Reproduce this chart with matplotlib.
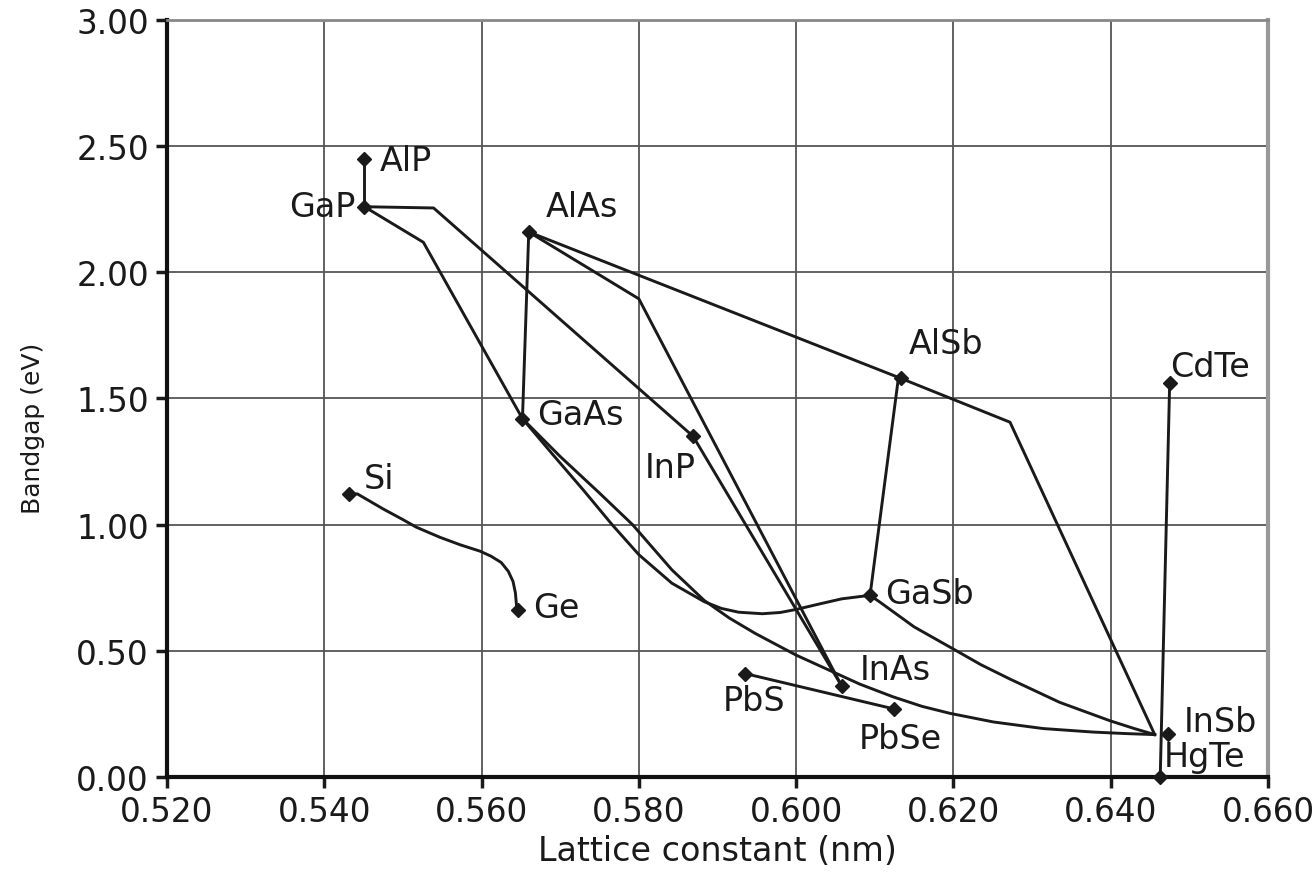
import numpy as np
import matplotlib.pyplot as plt

plt.rcParams['font.family'] = ['DejaVu Sans']

# binary compounds: lattice constant (nm) and bandgap (eV)
names = ['AlP', 'GaP', 'AlAs', 'GaAs', 'InP', 'AlSb', 'GaSb', 'InAs',
         'PbS', 'PbSe', 'Si', 'Ge', 'CdTe', 'InSb', 'HgTe']
lattice = [0.5451, 0.5451, 0.5660, 0.5652, 0.5869, 0.6133, 0.6094, 0.6058,
           0.5935, 0.6124, 0.5431, 0.5646, 0.6475, 0.6473, 0.6463]
bandgap = [2.45, 2.26, 2.16, 1.42, 1.35, 1.58, 0.72, 0.36,
           0.41, 0.27, 1.12, 0.66, 1.56, 0.17, 0.00]

# alloy lines (lattice, bandgap)
alp_gap_x = [0.5451, 0.5451]
alp_gap_y = [2.45, 2.26]
gap_inp_inas_x = [0.5451, 0.5539, 0.5869, 0.6058]
gap_inp_inas_y = [2.26, 2.255, 1.35, 0.36]
gap_gaas_x = [0.5451, 0.5526, 0.5652]
gap_gaas_y = [2.26, 2.119, 1.42]
alas_gaas_x = [0.5660, 0.5652]
alas_gaas_y = [2.16, 1.42]
alas_inas_x = [0.5660, 0.5800, 0.6058]
alas_inas_y = [2.16, 1.895, 0.36]
alas_alsb_insb_x = [0.5660, 0.6133, 0.6272, 0.6456]
alas_alsb_insb_y = [2.16, 1.58, 1.406, 0.168]
alsb_gasb_x = [0.6130, 0.6094]
alsb_gasb_y = [1.58, 0.72]
cdte_hgte_x = [0.6475, 0.6463]
cdte_hgte_y = [1.56, 0.00]
pbs_pbse_x = [0.5935, 0.6124]
pbs_pbse_y = [0.41, 0.27]

si_ge_x = [0.5431, 0.5442, 0.5475, 0.5500, 0.5517, 0.5547, 0.5573, 0.5598,
           0.5612, 0.5625, 0.5634, 0.5640, 0.5643, 0.5645]
si_ge_y = [1.12, 1.122, 1.062, 1.020, 0.990, 0.950, 0.920, 0.895,
           0.875, 0.850, 0.815, 0.775, 0.730, 0.66]
gaas_gasb_x = [0.5652, 0.5690, 0.5730, 0.5766, 0.5800, 0.5842, 0.5883, 0.5905,
               0.5927, 0.5957, 0.5980, 0.6000, 0.6030, 0.6058, 0.6094]
gaas_gasb_y = [1.42, 1.28, 1.135, 1.00, 0.881, 0.768, 0.695, 0.668,
               0.653, 0.647, 0.652, 0.664, 0.686, 0.706, 0.72]
gaas_inas_insb_x = [0.5652, 0.5700, 0.5750, 0.5792, 0.5842, 0.5883, 0.5915,
                    0.5948, 0.6000, 0.6050, 0.6081, 0.6123, 0.6160, 0.6196,
                    0.6251, 0.6314, 0.6378, 0.6420, 0.6456]
gaas_inas_insb_y = [1.42, 1.27, 1.125, 1.00, 0.821, 0.70, 0.63,
                    0.569, 0.483, 0.412, 0.368, 0.318, 0.280, 0.252,
                    0.218, 0.192, 0.178, 0.172, 0.168]
gasb_insb_x = [0.6094, 0.6107, 0.6150, 0.6200, 0.6235, 0.6272, 0.6335, 0.6399,
               0.6430, 0.6456]
gasb_insb_y = [0.72, 0.692, 0.595, 0.507, 0.445, 0.388, 0.296, 0.223,
               0.192, 0.168]

x_ticks = [0.520, 0.540, 0.560, 0.580, 0.600, 0.620, 0.640, 0.660]
y_ticks = [0.0, 0.5, 1.0, 1.5, 2.0, 2.5, 3.0]

fig = plt.figure(figsize=(13.13, 8.78), dpi=100)
ax = fig.add_axes([0.1272, 0.1139, 0.8385, 0.8622])

lc = '#1a1a1a'
lines = [(alp_gap_x, alp_gap_y), (gap_inp_inas_x, gap_inp_inas_y),
         (gap_gaas_x, gap_gaas_y), (alas_gaas_x, alas_gaas_y),
         (alas_inas_x, alas_inas_y), (alas_alsb_insb_x, alas_alsb_insb_y),
         (alsb_gasb_x, alsb_gasb_y), (cdte_hgte_x, cdte_hgte_y),
         (pbs_pbse_x, pbs_pbse_y), (si_ge_x, si_ge_y),
         (gaas_gasb_x, gaas_gasb_y), (gaas_inas_insb_x, gaas_inas_insb_y),
         (gasb_insb_x, gasb_insb_y)]
for xs, ys in lines:
    ax.plot(xs, ys, color=lc, lw=2.1, solid_joinstyle='round', zorder=3)

ax.plot(lattice, bandgap, 'D', color=lc, ms=7.5, ls='none', zorder=4, clip_on=False)

# label offsets in pixels (dx, dy, ha)
offsets = {'AlP': (15, -2, 'left'), 'GaP': (-9, 0, 'right'), 'AlAs': (17, 25, 'left'),
           'AlSb': (8, 35, 'left'), 'CdTe': (0, 17, 'left'), 'GaAs': (15, 4, 'left'),
           'InP': (-48, -31, 'left'), 'Si': (15, 16, 'left'), 'Ge': (15, 3, 'left'),
           'GaSb': (15, 2, 'left'), 'InAs': (18, 17, 'left'), 'PbS': (-22, -27, 'left'),
           'PbSe': (-35, -30, 'left'), 'InSb': (16, 13, 'left'), 'HgTe': (4, 20, 'left')}
for n, x, y in zip(names, lattice, bandgap):
    dx, dy, ha = offsets[n]
    ax.annotate(n, (x, y), xytext=(dx, dy), textcoords='offset pixels',
                ha=ha, va='center', fontsize=24, color='#1a1a1a')

ax.set_xlim(0.520, 0.660)
ax.set_ylim(0.0, 3.0)
ax.set_xticks(x_ticks)
ax.set_yticks(y_ticks)
ax.set_xticklabels(['%.3f' % v for v in x_ticks])
ax.set_yticklabels(['%.2f' % v for v in y_ticks])
ax.tick_params(direction='out', length=8, width=2.5, labelsize=23.5, pad=5,
               colors='#1a1a1a')
ax.grid(True, color='#555555', lw=1.3, zorder=1)
ax.set_axisbelow(True)

ax.spines['left'].set_linewidth(3)
ax.spines['bottom'].set_linewidth(3)
ax.spines['left'].set_color('#111111')
ax.spines['bottom'].set_color('#111111')
ax.spines['right'].set_color('#999999')
ax.spines['right'].set_linewidth(3)
ax.spines['top'].set_color('#888888')
ax.spines['top'].set_linewidth(2)

ax.set_xlabel('Lattice constant (nm)', fontsize=24, labelpad=4, color='#1a1a1a')
ax.set_ylabel('Bandgap (eV)', fontsize=18, color='#1a1a1a')
ax.yaxis.set_label_coords(-0.111, 0.462)

fig.savefig('out.png', dpi=100)
